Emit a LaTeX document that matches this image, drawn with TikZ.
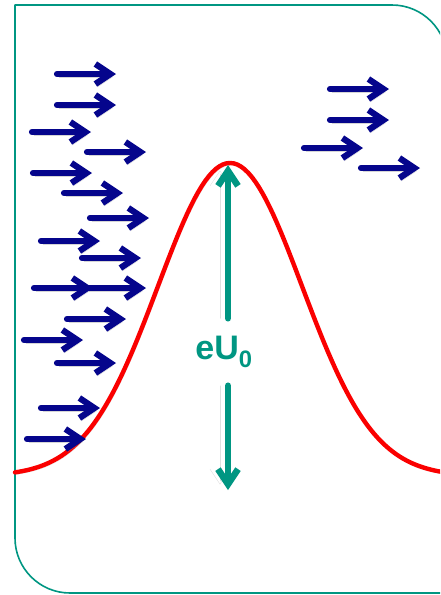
\documentclass[tikz,border=0pt]{standalone}
\usepackage{fontspec}
\setsansfont{Liberation Sans}
\usepackage{tikz}
\usetikzlibrary{arrows.meta}
\definecolor{pot@teal}{RGB}{0,150,130}
\definecolor{pot@red}{RGB}{250,0,0}
\definecolor{pot@navy}{RGB}{5,5,140}
\definecolor{pot@shade}{RGB}{150,150,150}
\tikzset{
  pot/.style={
    x=1pt, y=-1pt,               % pixel-like units, y pointing down
    line cap=round, line join=round
  },
  potframe/.style={draw=pot@teal, line width=1.6pt},
  barrier/.style={                 % potential barrier curve
    draw=pot@red, line width=4.4pt,
    preaction={draw=pot@shade, draw opacity=0.35, transform canvas={shift={(1.5pt,-2pt)}}}
  },
  particle/.style={                % incoming / transmitted particles
    -{Straight Barb[length=15pt,width=20pt]},
    draw=pot@navy, line width=6.2pt,
    preaction={draw=pot@shade, draw opacity=0.4, transform canvas={shift={(2pt,-3pt)}}}
  },
  barrierheight/.style={
    -{Straight Barb[length=15pt,width=20pt]},
    draw=pot@teal, line width=6.5pt,
    preaction={draw=pot@shade, draw opacity=0.3, transform canvas={shift={(-8pt,0pt)}}}
  },
  hlabel/.style={
    font=\sffamily\bfseries\fontsize{34}{36}\selectfont,
    text=pot@teal, inner sep=0pt, minimum height=67pt
  }
}
\begin{document}
\begin{tikzpicture}[pot]
\useasboundingbox (0,0) rectangle (440,595);
\clip (0,0) rectangle (440,595);

% frame: square top-left, rounded top-right and bottom-left
\draw[potframe] (15,5) -- (392,5) arc[start angle=90, end angle=0, radius=55pt]
  -- (447,593) -- (70,593) arc[start angle=270, end angle=180, radius=55pt] -- cycle;

% Gaussian barrier
\draw[barrier] plot[domain=15:442, samples=120]
  (\x, {476 - 313*exp(-0.5*((\x-230)/72)^2)});

% barrier height eU_0
\coordinate (peak)  at (228,165);
\coordinate (floor) at (228,490);
\node[hlabel] (eu) at (224,352) {eU\textsubscript{0}};
\draw[barrierheight] (eu.north -| peak) -- (peak);
\draw[barrierheight] (eu.south -| floor) -- (floor);

% particles in front of the barrier
\foreach \px/\py in {57/74, 57/105, 32/132, 87/152, 33/173, 64/193, 90/218,
                     41/241, 82/258, 34/288, 87/288, 67/319, 24/340, 57/363,
                     41/408, 27/439}
  \draw[particle] (\px,\py) -- ++(59,0);

% particles that got through
\foreach \px/\py in {330/89, 330/120, 304/148, 361/168}
  \draw[particle] (\px,\py) -- ++(59,0);

\end{tikzpicture}
\end{document}
